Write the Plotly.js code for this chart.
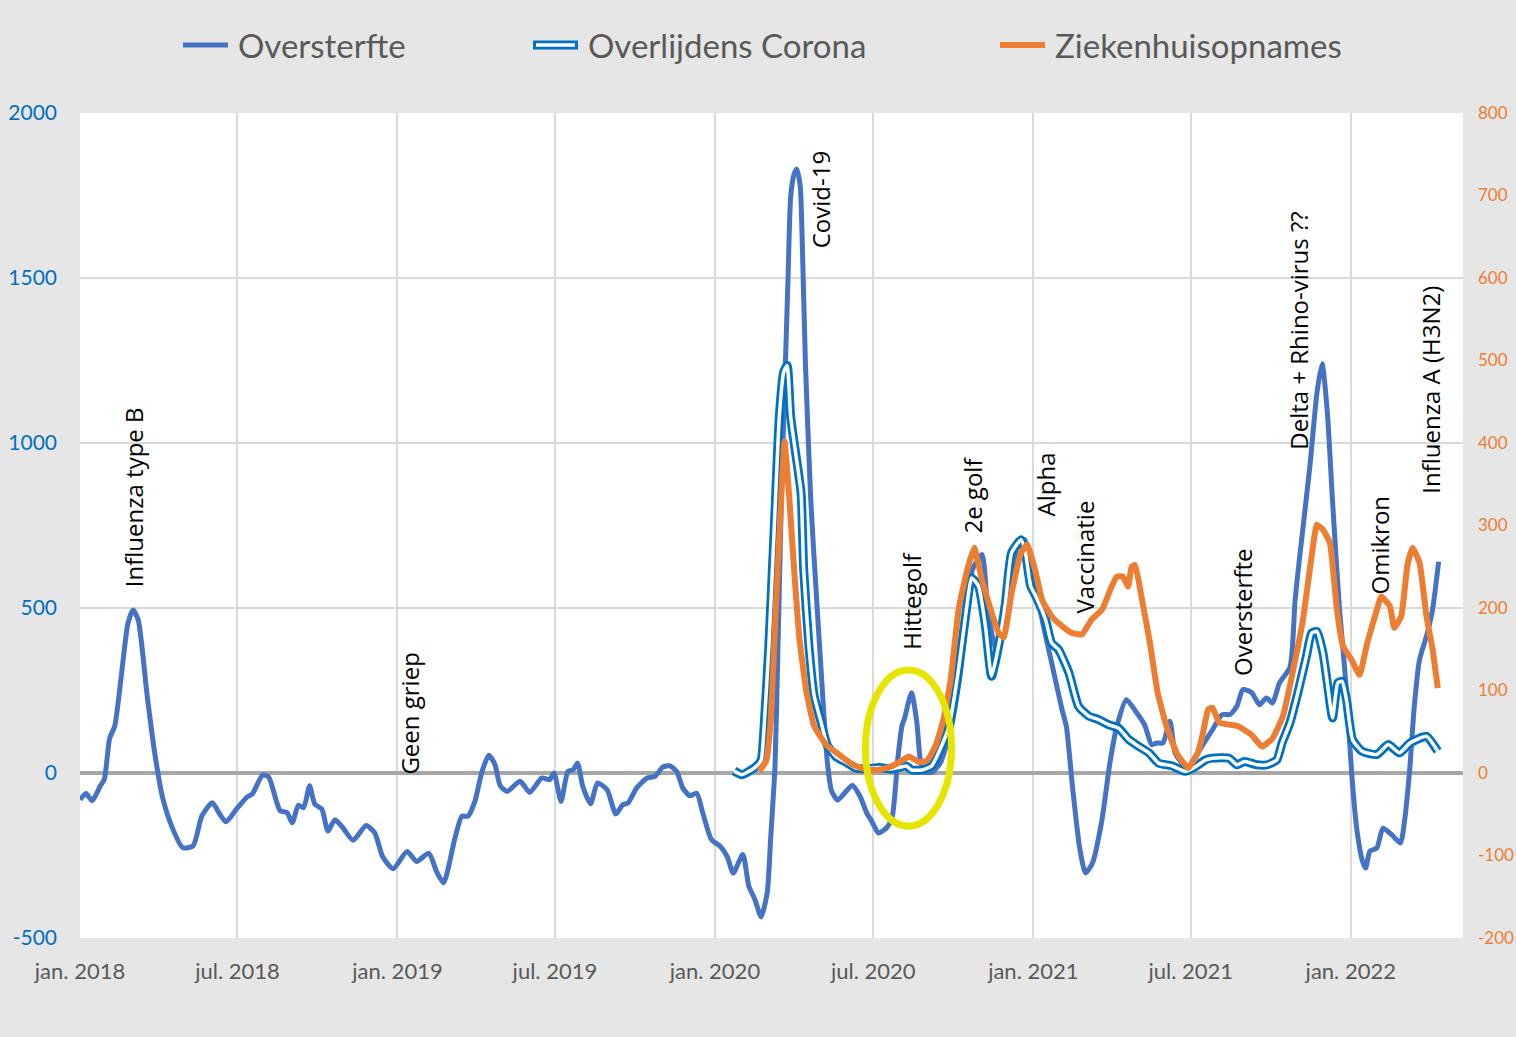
<!DOCTYPE html>
<html>
<head>
<meta charset="utf-8">
<script src="https://cdn.plot.ly/plotly-3.0.1.min.js"></script>
<style>
  html, body { margin: 0; padding: 0; background: #E7E6E6; }
</style>
</head>
<body>
<div id="myDiv" style="width:1516px;height:1037px;"></div>
<script>
// Oversterfte (left axis)
var overDates = ['2018-01-01','2018-01-08','2018-01-15','2018-01-24','2018-01-29','2018-02-04','2018-02-10','2018-02-18','2018-02-25','2018-03-03',
  '2018-03-09','2018-03-19','2018-03-28','2018-04-06','2018-04-17','2018-04-29','2018-05-11','2018-05-21','2018-06-02','2018-06-11',
  '2018-06-18','2018-06-30','2018-07-12','2018-07-18','2018-07-30','2018-08-06','2018-08-19','2018-08-27','2018-09-02','2018-09-09',
  '2018-09-15','2018-09-22','2018-09-28','2018-10-06','2018-10-13','2018-10-21','2018-10-30','2018-11-11','2018-11-26','2018-12-06',
  '2018-12-15','2018-12-27','2019-01-12','2019-01-23','2019-02-06','2019-02-15','2019-02-23','2019-03-08','2019-03-16','2019-03-23',
  '2019-03-31','2019-04-08','2019-04-16','2019-04-23','2019-04-29','2019-05-07','2019-05-22','2019-06-02','2019-06-16','2019-06-25',
  '2019-06-30','2019-07-08','2019-07-16','2019-07-22','2019-07-27','2019-08-02','2019-08-11','2019-08-19','2019-08-30','2019-09-09',
  '2019-09-17','2019-09-23','2019-10-03','2019-10-15','2019-10-24','2019-11-02','2019-11-10','2019-11-18','2019-11-25','2019-12-03',
  '2019-12-11','2019-12-18','2019-12-28','2020-01-07','2020-01-15','2020-01-22','2020-02-02','2020-02-09','2020-02-16','2020-02-23',
  '2020-03-01','2020-03-05','2020-03-10','2020-03-13','2020-03-18','2020-03-22','2020-03-25','2020-03-28','2020-04-01','2020-04-04',
  '2020-04-08','2020-04-10','2020-04-14','2020-04-20','2020-04-24','2020-05-03','2020-05-09','2020-05-14','2020-05-21','2020-05-29',
  '2020-06-07','2020-06-16','2020-06-24','2020-06-29','2020-07-07','2020-07-17','2020-07-23','2020-07-29','2020-08-03','2020-08-06',
  '2020-08-14','2020-08-20','2020-08-24','2020-08-28','2020-09-07','2020-09-16','2020-09-27','2020-10-08','2020-10-18','2020-10-23',
  '2020-11-03','2020-11-10','2020-11-20','2020-11-27','2020-12-07','2020-12-14','2020-12-22','2020-12-31','2021-01-12','2021-01-23',
  '2021-02-03','2021-02-08','2021-02-15','2021-02-23','2021-03-02','2021-03-10','2021-03-21','2021-03-30','2021-04-07','2021-04-18',
  '2021-04-30','2021-05-09','2021-05-17','2021-05-23','2021-05-30','2021-06-07','2021-06-13','2021-06-21','2021-06-28','2021-07-03',
  '2021-07-15','2021-07-26','2021-08-06','2021-08-15','2021-08-23','2021-08-30','2021-09-09','2021-09-18','2021-09-26','2021-10-03',
  '2021-10-11','2021-10-23','2021-10-29','2021-11-03','2021-11-15','2021-11-23','2021-11-29','2021-12-05','2021-12-11','2021-12-19',
  '2021-12-26','2022-01-02','2022-01-08','2022-01-14','2022-01-18','2022-01-23','2022-01-31','2022-02-07','2022-02-17','2022-02-27',
  '2022-03-04','2022-03-10','2022-03-15','2022-03-21','2022-03-30','2022-04-05','2022-04-12'];
var overValues = [-81,-62,-84,-41,-19,104,143,306,452,494,
  463,239,59,-75,-165,-226,-221,-131,-90,-126,
  -148,-109,-73,-64,-6,-13,-114,-120,-151,-98,
  -105,-39,-95,-109,-176,-142,-165,-204,-159,-182,
  -254,-290,-238,-268,-243,-299,-333,-198,-131,-131,
  -86,3,54,26,-38,-56,-25,-59,-15,-20,
  0,-86,5,10,30,-40,-93,-30,-51,-124,
  -96,-91,-45,-15,-10,18,22,5,-45,-69,
  -61,-121,-202,-222,-253,-303,-247,-343,-384,-436,
  -364,-200,20,330,900,1242,1500,1745,1815,1830,
  1780,1645,1242,836,650,270,38,-54,-82,-61,
  -37,-72,-124,-145,-182,-164,-130,38,143,166,
  243,155,40,3,3,30,121,283,515,616,
  662,485,364,434,566,692,707,616,454,323,
  192,141,-40,-222,-303,-273,-141,30,141,222,
  182,146,86,91,91,157,61,30,15,35,
  86,131,177,177,202,253,244,207,227,212,
  273,320,525,650,930,1150,1240,1094,824,497,
  283,0,-172,-263,-288,-237,-227,-167,-187,-212,
  -141,20,202,343,424,495,640];

// Overlijdens Corona (left axis)
var deathDates = ['2020-01-23','2020-02-01','2020-02-15','2020-02-23','2020-02-26','2020-03-03','2020-03-09','2020-03-15','2020-03-20','2020-03-24',
  '2020-03-28','2020-04-03','2020-04-09','2020-04-12','2020-04-18','2020-04-24','2020-05-02','2020-05-09','2020-05-19','2020-05-31',
  '2020-06-11','2020-06-23','2020-07-08','2020-07-22','2020-08-08','2020-08-14','2020-08-26','2020-09-06','2020-09-18','2020-09-26',
  '2020-10-07','2020-10-17','2020-10-22','2020-10-30','2020-11-07','2020-11-14','2020-11-22','2020-11-30','2020-12-07','2020-12-18',
  '2020-12-23','2020-12-29','2021-01-04','2021-01-15','2021-01-22','2021-01-30','2021-02-11','2021-02-22','2021-03-06','2021-03-17',
  '2021-03-29','2021-04-09','2021-04-21','2021-05-02','2021-05-14','2021-05-25','2021-06-09','2021-06-25','2021-07-07','2021-07-18',
  '2021-07-26','2021-08-14','2021-08-23','2021-09-01','2021-09-15','2021-09-27','2021-10-08','2021-10-14','2021-10-23','2021-11-01',
  '2021-11-11','2021-11-17','2021-11-23','2021-11-30','2021-12-05','2021-12-11','2021-12-17','2021-12-22','2021-12-27','2022-01-03',
  '2022-01-14','2022-01-31','2022-02-13','2022-02-26','2022-03-10','2022-03-29','2022-04-11'];
var deathValues = [6,-5,15,38,119,386,733,1080,1215,1235,
  1080,965,849,617,386,235,154,85,50,32,
  15,13,17,12,21,9,9,21,85,141,
  313,515,591,566,444,293,384,515,667,707,
  667,566,535,465,394,374,303,202,172,162,
  146,136,101,81,61,30,22,5,20,40,
  45,45,25,35,25,25,40,91,152,242,
  354,424,429,364,273,167,273,278,222,101,
  66,56,86,61,91,111,66];

// Ziekenhuisopnames (right axis)
var hospDates = ['2020-02-21','2020-02-29','2020-03-05','2020-03-11','2020-03-17','2020-03-21','2020-03-26','2020-04-01','2020-04-07','2020-04-15',
  '2020-04-24','2020-05-08','2020-05-23','2020-06-06','2020-06-23','2020-07-08','2020-07-22','2020-08-03','2020-08-11','2020-08-23',
  '2020-09-01','2020-09-11','2020-09-20','2020-09-28','2020-10-07','2020-10-17','2020-10-25','2020-11-03','2020-11-13','2020-11-22',
  '2020-11-28','2020-12-07','2020-12-18','2020-12-25','2021-01-04','2021-01-11','2021-01-22','2021-02-03','2021-02-14','2021-02-26',
  '2021-03-09','2021-03-21','2021-04-01','2021-04-07','2021-04-14','2021-04-20','2021-04-24','2021-04-28','2021-05-06','2021-05-15',
  '2021-05-24','2021-06-03','2021-06-15','2021-06-28','2021-07-09','2021-07-15','2021-07-21','2021-07-26','2021-08-03','2021-08-24',
  '2021-09-09','2021-09-21','2021-10-03','2021-10-15','2021-10-26','2021-11-07','2021-11-17','2021-11-23','2021-11-30','2021-12-08',
  '2021-12-16','2021-12-23','2022-01-02','2022-01-11','2022-01-20','2022-01-31','2022-02-05','2022-02-15','2022-02-20','2022-02-28',
  '2022-03-07','2022-03-13','2022-03-21','2022-03-29','2022-04-05','2022-04-11'];
var hospValues = [2,15,62,200,330,402,340,247,164,99,
  57,34,22,11,4,4,8,15,20,13,
  15,34,66,113,198,246,273,234,198,170,
  164,218,267,277,242,210,190,178,170,168,
  186,198,226,238,238,226,250,252,210,158,
  97,57,24,6,24,48,77,79,61,57,
  46,32,42,69,121,186,263,301,295,279,
  198,154,137,119,158,198,214,202,176,190,
  251,273,255,190,150,103];

var xTickVals = ['2018-01-01','2018-07-01','2019-01-01','2019-07-01','2020-01-01','2020-07-01','2021-01-01','2021-07-01','2022-01-01'];
var xTickText = ['jan. 2018','jul. 2018','jan. 2019','jul. 2019','jan. 2020','jul. 2020','jan. 2021','jul. 2021','jan. 2022'];
var yTickVals = [-500, 0, 500, 1000, 1500, 2000];
var yTickText = ['-500', '0', '500', '1000', '1500', '2000'];
var y2TickVals = [-200, -100, 0, 100, 200, 300, 400, 500, 600, 700, 800];
var y2TickText = ['-200', '-100', '0', '100', '200', '300', '400', '500', '600', '700', '800'];

// labels on the chart (date, left-axis value)
var noteText = ['Influenza type B','Geen griep','Covid-19','Hittegolf','2e golf','Alpha','Vaccinatie','Oversterfte','Delta + Rhino-virus ??','Omikron','Influenza A (H3N2)'];
var noteDate = ['2018-03-03','2019-01-15','2020-05-01','2020-08-13','2020-10-23','2021-01-15','2021-03-01','2021-08-30','2021-11-02','2022-02-03','2022-04-03'];
var noteY = [836,179,1736,521,842,876,655,488,1339,691,1161];

var legendNames = ['Oversterfte','Overlijdens Corona','Ziekenhuisopnames'];

var W = 1516, H = 1037;
var M = {l: 80, r: 53, t: 113, b: 99};
function px2x(px) { return (px - M.l) / (W - M.l - M.r); }
function py2y(py) { return (H - M.b - py) / (H - M.t - M.b); }

var BLUE = '#4472C4', DBLUE = '#0070C0', ORANGE = '#ED7D31';

var trace1 = {
  x: overDates, y: overValues, name: legendNames[0],
  type: 'scatter', mode: 'lines',
  line: {color: BLUE, width: 5, shape: 'spline', smoothing: 0.6}
};
var trace2 = {
  x: deathDates, y: deathValues, name: legendNames[1],
  type: 'scatter', mode: 'lines',
  line: {color: DBLUE, width: 9, shape: 'spline', smoothing: 0.5}
};
var trace2b = {
  x: deathDates, y: deathValues, name: legendNames[1],
  type: 'scatter', mode: 'lines',
  line: {color: '#ffffff', width: 3.5, shape: 'spline', smoothing: 0.5}
};
var trace3 = {
  x: hospDates, y: hospValues, name: legendNames[2], yaxis: 'y2',
  type: 'scatter', mode: 'lines',
  line: {color: ORANGE, width: 6, shape: 'spline', smoothing: 0.4}
};
var data = [trace1, trace2, trace2b, trace3];

var annotations = noteText.map(function (t, i) {
  return {x: noteDate[i], y: noteY[i], xref: 'x', yref: 'y', text: t, textangle: -90,
    showarrow: false, xanchor: 'center', yanchor: 'middle',
    font: {family: 'Open Sans', size: 24, color: '#000000'}};
});

// hand-made legend
var legSym = [[183, 228], [533, 578], [1000, 1045]];
var legY = 45;
var shapes = [];
legendNames.forEach(function (n, i) {
  annotations.push({x: px2x(legSym[i][1] + 8), y: py2y(legY), xref: 'paper', yref: 'paper',
    text: n, showarrow: false, xanchor: 'left', yanchor: 'middle',
    font: {family: 'Lato', size: 33, color: '#595959'}});
});
shapes.push({type: 'line', xref: 'paper', yref: 'paper', x0: px2x(legSym[0][0]), x1: px2x(legSym[0][1]),
  y0: py2y(legY), y1: py2y(legY), line: {color: BLUE, width: 5}});
shapes.push({type: 'line', xref: 'paper', yref: 'paper', x0: px2x(legSym[1][0]), x1: px2x(legSym[1][1]),
  y0: py2y(legY), y1: py2y(legY), line: {color: DBLUE, width: 9}});
shapes.push({type: 'line', xref: 'paper', yref: 'paper', x0: px2x(legSym[1][0] + 3), x1: px2x(legSym[1][1] - 3),
  y0: py2y(legY), y1: py2y(legY), line: {color: '#ffffff', width: 3.5}});
shapes.push({type: 'line', xref: 'paper', yref: 'paper', x0: px2x(legSym[2][0]), x1: px2x(legSym[2][1]),
  y0: py2y(legY), y1: py2y(legY), line: {color: ORANGE, width: 6}});

// yellow ring around the heat wave
shapes.push({type: 'circle', xref: 'x', yref: 'y', x0: '2020-06-22', x1: '2020-09-29', y0: -161, y1: 312,
  line: {color: '#E5E500', width: 7}});

var layout = {
  width: W, height: H,
  margin: M,
  paper_bgcolor: '#E7E6E6',
  plot_bgcolor: '#ffffff',
  showlegend: false,
  xaxis: {
    type: 'date', range: ['2018-01-01', '2022-05-10'],
    tickvals: xTickVals, ticktext: xTickText,
    showgrid: true, gridcolor: '#D9D9D9', gridwidth: 2,
    zeroline: false, showline: false, ticks: '',
    ticklabelstandoff: 18,
    tickfont: {family: 'Lato', size: 22, color: '#595959'}
  },
  yaxis: {
    range: [-500, 2000],
    tickvals: yTickVals, ticktext: yTickText,
    showgrid: true, gridcolor: '#D9D9D9', gridwidth: 2,
    zeroline: true, zerolinecolor: '#A6A6A6', zerolinewidth: 4,
    showline: false, ticks: '',
    ticklabelstandoff: 22,
    tickfont: {family: 'Lato', size: 21, color: DBLUE}
  },
  yaxis2: {
    range: [-200, 800],
    tickvals: y2TickVals, ticktext: y2TickText,
    overlaying: 'y', side: 'right',
    showgrid: false, zeroline: false, showline: false, ticks: '',
    ticklabelstandoff: 14,
    tickfont: {family: 'Lato', size: 17, color: ORANGE}
  },
  annotations: annotations,
  shapes: shapes
};

Plotly.newPlot('myDiv', data, layout, {displayModeBar: false, staticPlot: true});
</script>
</body>
</html>
